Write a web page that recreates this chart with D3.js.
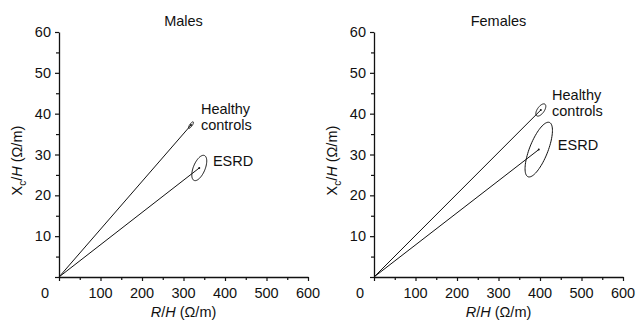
<!DOCTYPE html>
<html>
<head>
<meta charset="utf-8">
<title>RXc graph</title>
<script src="https://cdn.jsdelivr.net/npm/d3@7"></script>
<style>
  body { margin: 0; background: #fff; }
  svg text { font-family: "Liberation Sans", Arial, sans-serif; fill: #111; }
</style>
</head>
<body>
<svg id="chart" width="639" height="321"></svg>
<script>
// panels and groups
var panels = ["Males", "Females"];
var groups = ["Healthy controls", "ESRD"];

// mean vectors (R/H, Xc/H) per panel, order = groups
var meanR  = [[318, 338], [402, 397]];
var meanXc = [[37.2, 26.7], [40.9, 31.2]];

// ellipse spread (half widths in data units) and correlation
var sdR   = [[6, 18], [12, 33]];
var sdXc  = [[0.8, 3.1], [1.5, 6.7]];
var rho   = [[0.8, 0.55], [0.6, 0.7]];

// label positions (data units)
var labelR  = [[342, 371], [429, 443]];
var labelXc = [[39.9, 27.2], [43.3, 31.1]];

var xTicks = [100, 200, 300, 400, 500, 600];
var yTicks = [10, 20, 30, 40, 50, 60];

var svg = d3.select("#chart");
var left = [59, 374];
var plotW = 249;
var plotTop = 32, plotBottom = 277;
var fs = 14.5;

var y = d3.scaleLinear().domain([0, 60]).range([plotBottom, plotTop]);

panels.forEach(function (name, p) {
  var x = d3.scaleLinear().domain([0, 600]).range([left[p], left[p] + plotW]);
  var g = svg.append("g");

  // axes
  var xAxis = d3.axisBottom(x).tickValues(d3.range(0, 601, 50))
    .tickSize(0).tickFormat("");
  var gx = g.append("g").attr("transform", "translate(0," + plotBottom + ")").call(xAxis);
  gx.select(".domain").attr("stroke", "#111").attr("stroke-width", 1.3);
  gx.selectAll(".tick line")
    .attr("y2", function (d) { return d % 100 === 0 ? 4 : 3; })
    .attr("stroke", "#111").attr("stroke-width", 1.2);

  var yAxis = d3.axisLeft(y).tickValues(d3.range(0, 61, 5))
    .tickSize(0).tickFormat("");
  var gy = g.append("g").attr("transform", "translate(" + left[p] + ",0)").call(yAxis);
  gy.select(".domain").attr("stroke", "#111").attr("stroke-width", 1.3);
  gy.selectAll(".tick line")
    .attr("x2", function (d) { return d % 10 === 0 ? -4 : -3; })
    .attr("stroke", "#111").attr("stroke-width", 1.2);

  // tick labels
  g.selectAll(".xl").data(xTicks).enter().append("text")
    .attr("x", function (d) { return x(d); })
    .attr("y", plotBottom + 21)
    .attr("text-anchor", "middle").attr("font-size", fs)
    .text(function (d) { return d; });
  g.append("text").attr("x", x(0) - 14).attr("y", plotBottom + 21)
    .attr("text-anchor", "middle").attr("font-size", fs).text("0");

  g.selectAll(".yl").data(yTicks).enter().append("text")
    .attr("x", left[p] - 8)
    .attr("y", function (d) { return y(d) + 5; })
    .attr("text-anchor", "end").attr("font-size", fs)
    .text(function (d) { return d; });

  // titles
  g.append("text").attr("x", x(300)).attr("y", 26)
    .attr("text-anchor", "middle").attr("font-size", fs).text(name);

  var xl = g.append("text").attr("x", x(300)).attr("y", 317)
    .attr("text-anchor", "middle").attr("font-size", fs);
  xl.append("tspan").attr("font-style", "italic").text("R");
  xl.append("tspan").text("/");
  xl.append("tspan").attr("font-style", "italic").text("H");
  xl.append("tspan").text(" (\u03A9/m)");

  var yl = g.append("text")
    .attr("transform", "translate(" + (left[p] - 37) + "," + y(28.5) + ") rotate(-90)")
    .attr("text-anchor", "middle").attr("font-size", fs);
  yl.append("tspan").text("X");
  yl.append("tspan").attr("font-size", 10).attr("dy", 4).text("c");
  yl.append("tspan").attr("dy", -4).text("/");
  yl.append("tspan").attr("font-style", "italic").text("H");
  yl.append("tspan").text(" (\u03A9/m)");

  // vectors and tolerance ellipses
  groups.forEach(function (gr, k) {
    g.append("line")
      .attr("x1", x(0)).attr("y1", y(0))
      .attr("x2", x(meanR[p][k])).attr("y2", y(meanXc[p][k]))
      .attr("stroke", "#111").attr("stroke-width", 1);

    var pts = d3.range(0, 361, 4).map(function (a) {
      var t = a * Math.PI / 180;
      var r = rho[p][k];
      return [
        x(meanR[p][k] + sdR[p][k] * Math.cos(t)),
        y(meanXc[p][k] + sdXc[p][k] * (r * Math.cos(t) + Math.sqrt(1 - r * r) * Math.sin(t)))
      ];
    });
    g.append("path").attr("d", d3.line()(pts) + "Z")
      .attr("fill", "none").attr("stroke", "#111").attr("stroke-width", 1);

    g.append("circle").attr("cx", x(meanR[p][k])).attr("cy", y(meanXc[p][k]))
      .attr("r", 1).attr("fill", "#111");

    var lines = gr === "ESRD" ? ["ESRD"] : ["Healthy", "controls"];
    var lt = g.append("text").attr("font-size", fs);
    lines.forEach(function (s, i) {
      lt.append("tspan").attr("x", x(labelR[p][k]))
        .attr("y", y(labelXc[p][k]) + i * 16).text(s);
    });
  });
});
</script>
</body>
</html>
